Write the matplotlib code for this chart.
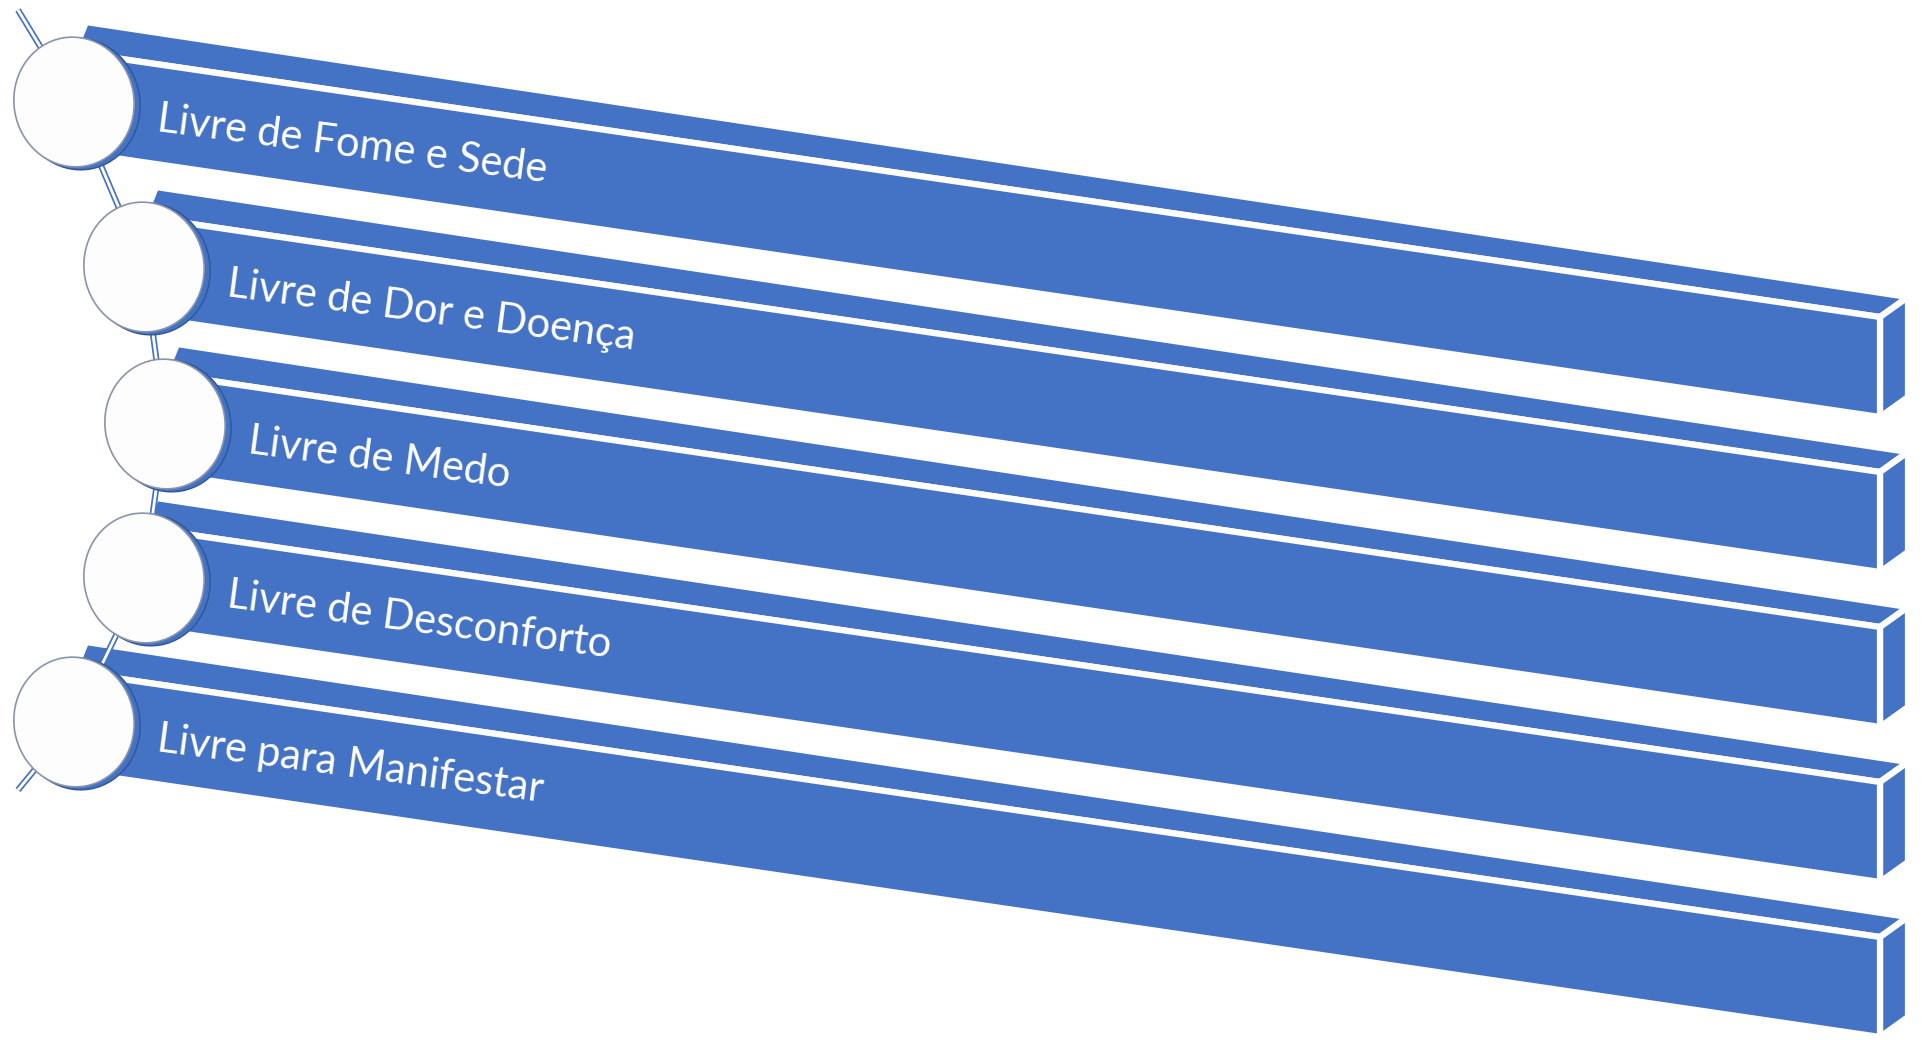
import matplotlib.pyplot as plt
from matplotlib.patches import Polygon, Ellipse

# the five freedoms, top to bottom
labels = ["Livre de Fome e Sede", "Livre de Dor e Doença", "Livre de Medo",
          "Livre de Desconforto", "Livre para Manifestar"]

# layout (pixel space, y down)
node_x = [74, 144, 165, 144, 74]
node_y = [102, 267, 424, 578, 722]
right_top = [317, 472, 627, 782, 937]
bar_h = 100
x_right = 1880
blue = "#4472C4"

fig = plt.figure(figsize=(19.28, 10.40), dpi=100)
ax = fig.add_axes([0, 0, 1, 1])
ax.set_xlim(0, 1928)
ax.set_ylim(1040, 0)
ax.axis("off")

for i, lab in enumerate(labels):
    xl = node_x[i]
    yc = node_y[i]
    ytl, ybl = yc - bar_h / 2, yc + bar_h / 2
    ytr, ybr = right_top[i], right_top[i] + bar_h
    front = [(xl, ytl), (x_right, ytr), (x_right, ybr), (xl, ybl)]
    top = [(xl + 12, ytl - 30), (x_right + 28, ytr - 20), (x_right, ytr), (xl, ytl)]
    side = [(x_right, ytr), (x_right + 28, ytr - 20), (x_right + 28, ybr - 20), (x_right, ybr)]
    for pts in (top, side, front):
        ax.add_patch(Polygon(pts, closed=True, fc=blue, ec="white", lw=4.5,
                             joinstyle="miter", zorder=2 + i * 0.1))
    ax.text(xl + 82, yc + 29, lab, rotation=-7.5, rotation_mode="anchor",
            ha="left", va="baseline", color="white", fontsize=30,
            family=["Lato", "DejaVu Sans"], zorder=3)

# connector running through the circles
cx = [18] + node_x + [18]
cy = [10] + node_y + [790]
ax.plot(cx, cy, color=blue, lw=4.5, solid_capstyle="butt", zorder=4)
ax.plot(cx, cy, color="white", lw=2, solid_capstyle="butt", zorder=4.1)

for x, y in zip(node_x, node_y):
    ax.add_patch(Ellipse((x + 5, y + 2), 122, 132, angle=-10, fc=blue,
                         ec="#2F5597", lw=1, zorder=5))
    ax.add_patch(Ellipse((x, y), 120, 130, angle=-10, fc="#FDFDFD",
                         ec="#8A94A8", lw=1.2, zorder=6))

fig.savefig("out.png", dpi=100, facecolor="white")
